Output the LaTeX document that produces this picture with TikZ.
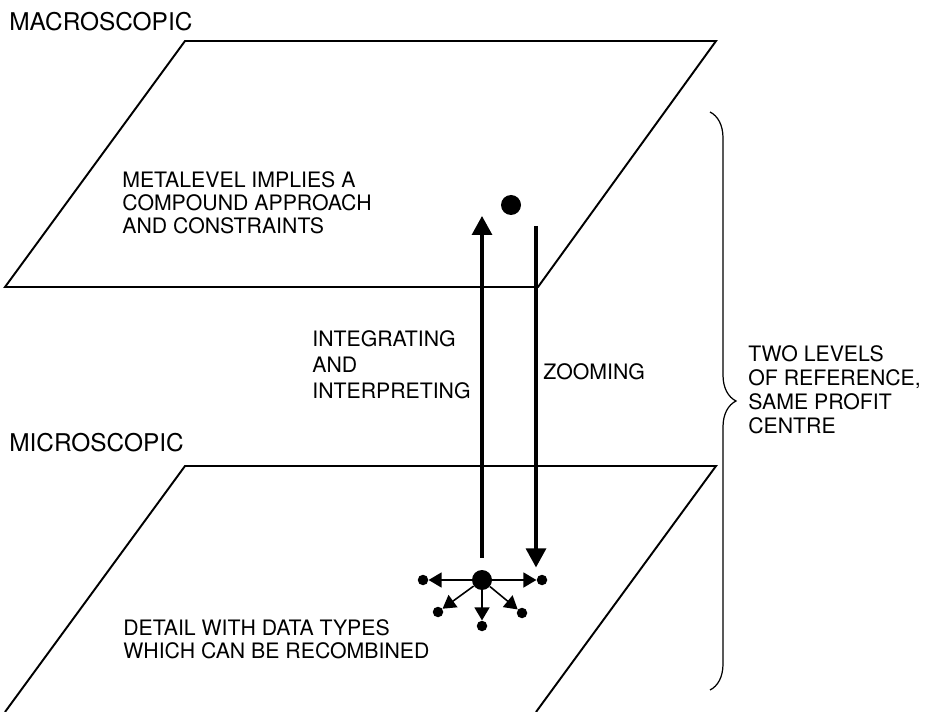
\documentclass[tikz,border=0pt]{standalone}
\usepackage{fontspec}
\setmainfont{TeX Gyre Heros}
\usetikzlibrary{arrows.meta, decorations.pathreplacing}
\tikzstyle{plane} = [line width=1.1pt, line join=miter]
\tikzstyle{phead} = [anchor=north west, inner sep=0pt, font=\fontsize{13.9pt}{15pt}\selectfont]
\tikzstyle{ptext} = [anchor=north west, inner sep=0pt, align=left, font=\fontsize{12.1pt}{13.1pt}\selectfont]
\tikzstyle{bigdot} = [circle, fill=black, inner sep=0pt, minimum size=0.4cm]
\tikzstyle{smalldot} = [circle, fill=black, inner sep=0pt, minimum size=0.21cm]
\tikzstyle{arrow} = [line width=1.8pt, -{Triangle[width=0.4cm,length=0.38cm]}]
\tikzstyle{spoke} = [line width=0.9pt, -{Triangle[width=0.3cm,length=0.26cm]}]

\begin{document}
\begin{tikzpicture}[x=0.02cm, y=-0.02cm]
\useasboundingbox (0,0) rectangle (926,712);
% the two planes (lower one runs off the page)
\draw [plane] (185,41) -- (716,41) -- (538,287) -- (5,287) -- cycle;
\draw [plane] (5,712) -- (185,466) -- (716,466) -- (536,712);
% texts
\node (macro) [phead] at (9,12) {MACROSCOPIC};
\node (micro) [phead] at (9,433) {MICROSCOPIC};
\node (meta) [ptext] at (122,171) {METALEVEL IMPLIES A\\COMPOUND APPROACH\\AND CONSTRAINTS};
\node (integ) [ptext, font=\fontsize{12.1pt}{14.8pt}\selectfont] at (312,330) {INTEGRATING\\AND\\INTERPRETING};
\node (zoomtxt) [ptext] at (543,363) {ZOOMING};
\node (detail) [ptext] at (123,619) {DETAIL WITH DATA TYPES\\WHICH CAN BE RECOMBINED};
\node (levels) [ptext, font=\fontsize{12.1pt}{13.7pt}\selectfont] at (748,345) {TWO LEVELS\\OF REFERENCE,\\SAME PROFIT\\CENTRE};
% dots
\node (top) [bigdot] at (511,205) {};
\node (hub) [bigdot] at (482,580) {};
\node (w) [smalldot] at (423,580) {};
\node (e) [smalldot] at (542,580) {};
\node (sw) [smalldot] at (438,612) {};
\node (s) [smalldot] at (482,626) {};
\node (se) [smalldot] at (522,613) {};
\draw [spoke] (hub) -- (w);
\draw [spoke] (hub) -- (e);
\draw [spoke] (hub) -- (sw);
\draw [spoke] (hub) -- (s);
\draw [spoke] (hub) -- (se);
% up and down
\coordinate (uptip) at (482,216);
\coordinate (downtail) at (536,226);
\draw [arrow, shorten <=0.24cm] (hub) -- (uptip);
\draw [arrow, shorten >=0.14cm] (downtail) -- (downtail |- e.north);
% brace
\coordinate (btop) at (710,112);
\coordinate (bbot) at (710,690);
\draw [line width=0.7pt, decorate, decoration={brace, amplitude=0.52cm}] (btop) -- (bbot);
\end{tikzpicture}
\end{document}
